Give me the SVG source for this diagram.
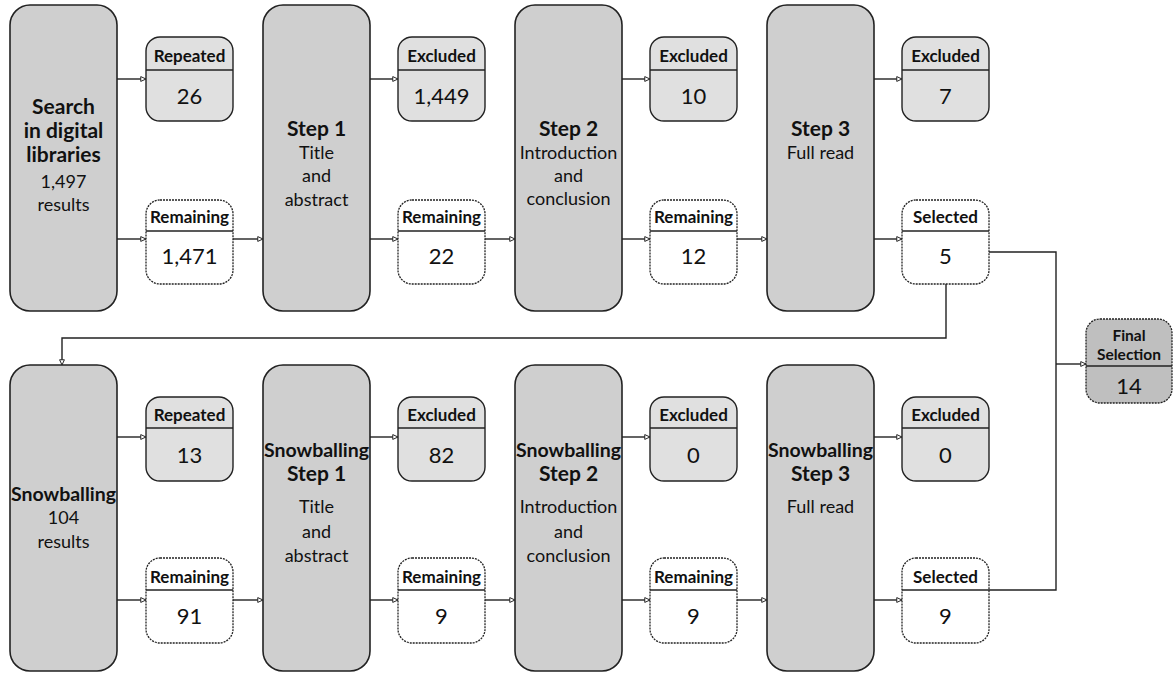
<svg xmlns="http://www.w3.org/2000/svg" width="1173" height="675" viewBox="0 0 1173 675">
<defs>
<marker id="arr" viewBox="0 0 8 8" refX="7.5" refY="4" markerWidth="6" markerHeight="6" markerUnits="userSpaceOnUse" orient="auto">
<path d="M0.5,0.8 L7.5,4 L0.5,7.2 Z" fill="#fff" stroke="#222" stroke-width="1.3"/>
</marker>
</defs>
<style>
text{font-family:Lato,"Open Sans","Liberation Sans",sans-serif;fill:#111;text-anchor:middle}
.big{fill:#cfcfcf;stroke:#222;stroke-width:1.6}
.gray{fill:#e0e0e0;stroke:#222;stroke-width:1.4}
.rem{fill:#fff;stroke:#222;stroke-width:1.3;stroke-dasharray:2 1}
.fin{fill:#bfbfbf;stroke:#222;stroke-width:1.3;stroke-dasharray:2 1}
.div{stroke:#222;stroke-width:1.4}
.hb{font-size:17px;font-weight:bold}
.fb{font-size:15.5px;font-weight:bold}
.num{font-size:22px}
.tb{font-size:21px;font-weight:bold}
.sb{font-size:19.5px;font-weight:bold}
.tn{font-size:18px}
.con path,.con line{fill:none;stroke:#222;stroke-width:1.4}
</style>
<rect width="1173" height="675" fill="#fff"/>

<!-- Top row big boxes -->
<g id="search"><rect class="big" x="10" y="5" width="107" height="306" rx="20"/>
<text class="tb" x="63.5" y="114">Search</text><text class="tb" x="63.5" y="138">in digital</text><text class="tb" x="63.5" y="162">libraries</text><text class="tn" x="63.5" y="188">1,497</text><text class="tn" x="63.5" y="211">results</text></g>
<g id="step1"><rect class="big" x="263" y="5" width="107" height="306" rx="20"/>
<text class="tb" x="316.5" y="136">Step 1</text><text class="tn" x="316.5" y="159">Title</text><text class="tn" x="316.5" y="182">and</text><text class="tn" x="316.5" y="206">abstract</text></g>
<g id="step2"><rect class="big" x="515" y="5" width="107" height="306" rx="20"/>
<text class="tb" x="568.5" y="136">Step 2</text><text class="tn" x="568.5" y="159">Introduction</text><text class="tn" x="568.5" y="182">and</text><text class="tn" x="568.5" y="205">conclusion</text></g>
<g id="step3"><rect class="big" x="767" y="5" width="107" height="306" rx="20"/>
<text class="tb" x="820.5" y="136">Step 3</text><text class="tn" x="820.5" y="159">Full read</text></g>

<!-- Top row small boxes -->
<g id="repeated1"><rect class="gray" x="146" y="37" width="87" height="84" rx="14"/><line class="div" x1="146" y1="70" x2="233" y2="70"/>
<text class="hb" x="189.5" y="62">Repeated</text><text class="num" x="189.5" y="104">26</text></g>
<g id="remaining1"><rect class="rem" x="146" y="200" width="87" height="84" rx="14"/><line class="div" x1="146" y1="231" x2="233" y2="231"/>
<text class="hb" x="189.5" y="223">Remaining</text><text class="num" x="189.5" y="264">1,471</text></g>
<g id="excluded1"><rect class="gray" x="398" y="37" width="87" height="84" rx="14"/><line class="div" x1="398" y1="70" x2="485" y2="70"/>
<text class="hb" x="441.5" y="62">Excluded</text><text class="num" x="441.5" y="104">1,449</text></g>
<g id="remaining2"><rect class="rem" x="398" y="200" width="87" height="84" rx="14"/><line class="div" x1="398" y1="231" x2="485" y2="231"/>
<text class="hb" x="441.5" y="223">Remaining</text><text class="num" x="441.5" y="264">22</text></g>
<g id="excluded2"><rect class="gray" x="650" y="37" width="87" height="84" rx="14"/><line class="div" x1="650" y1="70" x2="737" y2="70"/>
<text class="hb" x="693.5" y="62">Excluded</text><text class="num" x="693.5" y="104">10</text></g>
<g id="remaining3"><rect class="rem" x="650" y="200" width="87" height="84" rx="14"/><line class="div" x1="650" y1="231" x2="737" y2="231"/>
<text class="hb" x="693.5" y="223">Remaining</text><text class="num" x="693.5" y="264">12</text></g>
<g id="excluded3"><rect class="gray" x="902" y="37" width="87" height="84" rx="14"/><line class="div" x1="902" y1="70" x2="989" y2="70"/>
<text class="hb" x="945.5" y="62">Excluded</text><text class="num" x="945.5" y="104">7</text></g>
<g id="selected1"><rect class="rem" x="902" y="200" width="87" height="84" rx="14"/><line class="div" x1="902" y1="231" x2="989" y2="231"/>
<text class="hb" x="945.5" y="223">Selected</text><text class="num" x="945.5" y="264">5</text></g>

<!-- Bottom row big boxes -->
<g id="snow"><rect class="big" x="10" y="365" width="107" height="306" rx="20"/>
<text class="sb" x="63.5" y="501">Snowballing</text><text class="tn" x="63.5" y="524">104</text><text class="tn" x="63.5" y="548">results</text></g>
<g id="snow1"><rect class="big" x="263" y="365" width="107" height="306" rx="20"/>
<text class="sb" x="316.5" y="457">Snowballing</text><text class="tb" x="316.5" y="481">Step 1</text><text class="tn" x="316.5" y="513">Title</text><text class="tn" x="316.5" y="538">and</text><text class="tn" x="316.5" y="562">abstract</text></g>
<g id="snow2"><rect class="big" x="515" y="365" width="107" height="306" rx="20"/>
<text class="sb" x="568.5" y="457">Snowballing</text><text class="tb" x="568.5" y="481">Step 2</text><text class="tn" x="568.5" y="513">Introduction</text><text class="tn" x="568.5" y="538">and</text><text class="tn" x="568.5" y="562">conclusion</text></g>
<g id="snow3"><rect class="big" x="767" y="365" width="107" height="306" rx="20"/>
<text class="sb" x="820.5" y="457">Snowballing</text><text class="tb" x="820.5" y="481">Step 3</text><text class="tn" x="820.5" y="513">Full read</text></g>

<!-- Bottom row small boxes -->
<g id="repeated2"><rect class="gray" x="146" y="397" width="87" height="84" rx="14"/><line class="div" x1="146" y1="428" x2="233" y2="428"/>
<text class="hb" x="189.5" y="421">Repeated</text><text class="num" x="189.5" y="463">13</text></g>
<g id="remaining4"><rect class="rem" x="146" y="558" width="87" height="85" rx="14"/><line class="div" x1="146" y1="590" x2="233" y2="590"/>
<text class="hb" x="189.5" y="583">Remaining</text><text class="num" x="189.5" y="624">91</text></g>
<g id="excluded4"><rect class="gray" x="398" y="397" width="87" height="84" rx="14"/><line class="div" x1="398" y1="428" x2="485" y2="428"/>
<text class="hb" x="441.5" y="421">Excluded</text><text class="num" x="441.5" y="463">82</text></g>
<g id="remaining5"><rect class="rem" x="398" y="558" width="87" height="85" rx="14"/><line class="div" x1="398" y1="590" x2="485" y2="590"/>
<text class="hb" x="441.5" y="583">Remaining</text><text class="num" x="441.5" y="624">9</text></g>
<g id="excluded5"><rect class="gray" x="650" y="397" width="87" height="84" rx="14"/><line class="div" x1="650" y1="428" x2="737" y2="428"/>
<text class="hb" x="693.5" y="421">Excluded</text><text class="num" x="693.5" y="463">0</text></g>
<g id="remaining6"><rect class="rem" x="650" y="558" width="87" height="85" rx="14"/><line class="div" x1="650" y1="590" x2="737" y2="590"/>
<text class="hb" x="693.5" y="583">Remaining</text><text class="num" x="693.5" y="624">9</text></g>
<g id="excluded6"><rect class="gray" x="902" y="397" width="87" height="84" rx="14"/><line class="div" x1="902" y1="428" x2="989" y2="428"/>
<text class="hb" x="945.5" y="421">Excluded</text><text class="num" x="945.5" y="463">0</text></g>
<g id="selected2"><rect class="rem" x="902" y="558" width="87" height="85" rx="14"/><line class="div" x1="902" y1="590" x2="989" y2="590"/>
<text class="hb" x="945.5" y="583">Selected</text><text class="num" x="945.5" y="624">9</text></g>

<!-- Final selection -->
<g id="final"><rect class="fin" x="1086" y="319" width="86" height="84" rx="14"/><line class="div" x1="1086" y1="366" x2="1172" y2="366"/>
<text class="fb" x="1129" y="341">Final</text><text class="fb" x="1129" y="360">Selection</text><text class="num" x="1129" y="394">14</text></g>

<!-- Connectors -->
<g id="connectors" class="con">
<line x1="117" y1="79" x2="146" y2="79" marker-end="url(#arr)"/>
<line x1="117" y1="239" x2="146" y2="239" marker-end="url(#arr)"/>
<line x1="233" y1="239" x2="263" y2="239" marker-end="url(#arr)"/>
<line x1="370" y1="79" x2="398" y2="79" marker-end="url(#arr)"/>
<line x1="370" y1="239" x2="398" y2="239" marker-end="url(#arr)"/>
<line x1="485" y1="239" x2="515" y2="239" marker-end="url(#arr)"/>
<line x1="622" y1="79" x2="650" y2="79" marker-end="url(#arr)"/>
<line x1="622" y1="239" x2="650" y2="239" marker-end="url(#arr)"/>
<line x1="737" y1="239" x2="767" y2="239" marker-end="url(#arr)"/>
<line x1="874" y1="79" x2="902" y2="79" marker-end="url(#arr)"/>
<line x1="874" y1="239" x2="902" y2="239" marker-end="url(#arr)"/>

<line x1="117" y1="437" x2="146" y2="437" marker-end="url(#arr)"/>
<line x1="117" y1="600" x2="146" y2="600" marker-end="url(#arr)"/>
<line x1="233" y1="600" x2="263" y2="600" marker-end="url(#arr)"/>
<line x1="370" y1="437" x2="398" y2="437" marker-end="url(#arr)"/>
<line x1="370" y1="600" x2="398" y2="600" marker-end="url(#arr)"/>
<line x1="485" y1="600" x2="515" y2="600" marker-end="url(#arr)"/>
<line x1="622" y1="437" x2="650" y2="437" marker-end="url(#arr)"/>
<line x1="622" y1="600" x2="650" y2="600" marker-end="url(#arr)"/>
<line x1="737" y1="600" x2="767" y2="600" marker-end="url(#arr)"/>
<line x1="874" y1="437" x2="902" y2="437" marker-end="url(#arr)"/>
<line x1="874" y1="600" x2="902" y2="600" marker-end="url(#arr)"/>

<path d="M946,284 V338 H62 V365" marker-end="url(#arr)"/>
<path d="M989,252 H1056 V590 H989"/>
<line x1="1056" y1="364" x2="1086" y2="364" marker-end="url(#arr)"/>
</g>
</svg>
